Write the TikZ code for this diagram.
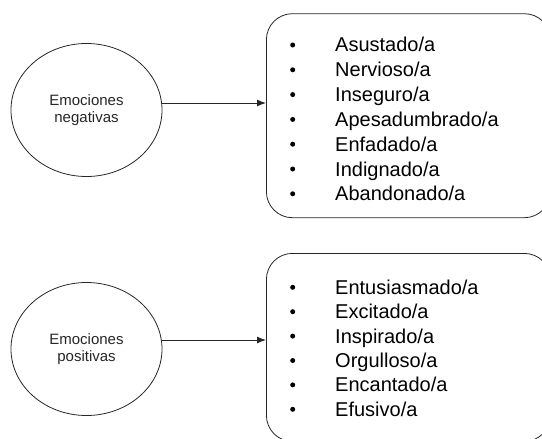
\documentclass[tikz,border=0pt]{standalone}
\usepackage{fontspec}
\setmainfont{Liberation Sans}
\usetikzlibrary{shapes.geometric, arrows.meta, positioning}

\tikzset{
  emo/.style={draw=black!85, ellipse, line width=0.8pt, minimum width=151pt, minimum height=133pt,
    align=center, font=\fontsize{15}{16.5}\selectfont, text=black!85},
  lbox/.style={draw=black!85, rounded corners=26pt, line width=0.8pt, anchor=north west},
  bul/.style={circle, fill=black, inner sep=0pt, minimum size=5pt},
  itm/.style={anchor=base west, inner sep=0pt, font=\fontsize{20}{24}\selectfont},
  link/.style={-{Latex[length=9pt,width=7pt]}, line width=1pt, draw=black!85}
}

\begin{document}
\begin{tikzpicture}[x=1pt, y=-1pt]
\useasboundingbox (0,0) rectangle (542,439);
% emotion groups
\node[emo] (neg) at (86.5,110) {Emociones\\negativas};
\node[emo] (pos) at (86.5,349) {Emociones\\positivas};
% list boxes
\node[lbox, minimum width=284pt, minimum height=204pt] (negbox) at (266,13.3) {};
\node[lbox, minimum width=284pt, minimum height=188pt] (posbox) at (266,253) {};
% negative list
\foreach \w [count=\i from 0] in {Asustado/a, Nervioso/a, Inseguro/a, Apesadumbrado/a,
    Enfadado/a, Indignado/a, Abandonado/a}{
  \node[bul] (nb\i) at (292.7, {45+24.8*\i}) {};
  \node[itm] (nt\i) at (335, {52+24.8*\i}) {\w};
}
% positive list
\foreach \w [count=\i from 0] in {Entusiasmado/a, Excitado/a, Inspirado/a, Orgulloso/a,
    Encantado/a, Efusivo/a}{
  \node[bul] (pb\i) at (292.7, {287.3+24.4*\i}) {};
  \node[itm] (pt\i) at (335, {294.3+24.4*\i}) {\w};
}
% arrows
\coordinate (negin) at (negbox.west |- 0,103);
\coordinate (posin) at (posbox.west |- 0,340);
\draw[link] (neg.east |- negin) -- (negin);
\draw[link] (pos.east |- posin) -- (posin);
\end{tikzpicture}
\end{document}
